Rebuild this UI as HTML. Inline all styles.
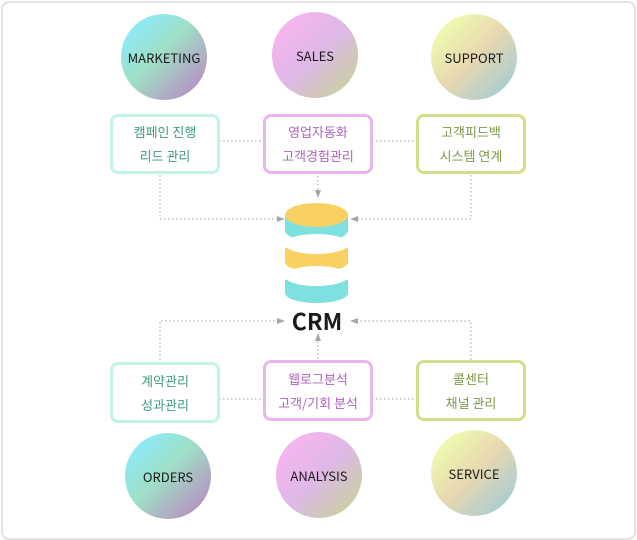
<!DOCTYPE html>
<html><head><meta charset="utf-8"><style>
html,body{margin:0;padding:0;background:#fff;}
body{width:637px;height:540px;position:relative;overflow:hidden;font-family:"Noto Sans CJK KR","Liberation Sans",sans-serif;}
.frame{position:absolute;left:1px;top:1px;width:631px;height:535px;border:2px solid #e2e2e2;border-radius:8px;}
.c{position:absolute;width:86px;height:86px;border-radius:50%;display:flex;align-items:center;justify-content:center;font-size:13px;color:#1a1a1a;}
.b{position:absolute;border:3px solid;border-radius:8px;background:#fff;box-sizing:border-box;display:flex;flex-direction:column;justify-content:center;align-items:center;font-size:13px;line-height:24px;}
.g{border-color:#c2f5e5;color:#3f9a80;}
.p{border-color:#e8b6ec;color:#b062c0;}
.y{border-color:#cfe08a;color:#7d9848;}
svg{position:absolute;left:0;top:0;}
</style></head><body>
<div class="frame"></div>
<svg width="637" height="540">
<defs><marker id="a" markerWidth="8" markerHeight="8" refX="7" refY="4" orient="auto" markerUnits="userSpaceOnUse"><path d="M0,1 L8,4 L0,7 Z" fill="#a0a8b0"/></marker></defs>
<g stroke="#b4b4b4" stroke-width="1.2" stroke-dasharray="1.5,2.5" fill="none">
<line x1="219" y1="141" x2="264" y2="141"/><line x1="372" y1="141" x2="417" y2="141"/>
<line x1="219" y1="399" x2="264" y2="399"/><line x1="372" y1="399" x2="417" y2="399"/>
<polyline points="160,175 160,219 284,219" marker-end="url(#a)"/>
<polyline points="471,175 471,219 351,219" marker-end="url(#a)"/>
<line x1="318" y1="176" x2="318" y2="197" marker-end="url(#a)"/>
<polyline points="160,360 160,321 284,321" marker-end="url(#a)"/>
<polyline points="471,360 471,321 351,321" marker-end="url(#a)"/>
<line x1="318" y1="359" x2="318" y2="334" marker-end="url(#a)"/>
</g>
<rect x="285" y="215" width="63" height="15" fill="#7ee0df"/><ellipse cx="316.5" cy="230" rx="31.5" ry="12" fill="#7ee0df"/>
<ellipse cx="316.5" cy="215" rx="31.5" ry="12" fill="#f9d163"/>
<rect x="285" y="248" width="63" height="14" fill="#f9d163"/><ellipse cx="316.5" cy="262" rx="31.5" ry="10" fill="#f9d163"/>
<ellipse cx="316.5" cy="244" rx="32" ry="10" fill="#fff"/>
<rect x="285" y="280" width="63" height="13" fill="#7ee0df"/><ellipse cx="316.5" cy="293" rx="31.5" ry="10" fill="#7ee0df"/>
<ellipse cx="316.5" cy="276" rx="32" ry="10" fill="#fff"/>
</svg>
<div style="position:absolute;left:270px;top:303px;width:94px;text-align:center;font-size:23px;line-height:34px;font-weight:bold;color:#1a1a1a;">CRM</div>
<div class="c" style="left:121px;top:14px;background:linear-gradient(135deg,#8ee9f5 15%,#9ee0c8 45%,#b88fc2 90%);">MARKETING</div>
<div class="c" style="left:272px;top:12px;background:linear-gradient(135deg,#f7b4ef 15%,#deb8e8 50%,#c8d0a0 90%);">SALES</div>
<div class="c" style="left:431px;top:14px;background:linear-gradient(135deg,#eef9b0 15%,#e8d8b0 50%,#a6ccd4 90%);">SUPPORT</div>
<div class="c" style="left:125px;top:433px;background:linear-gradient(135deg,#8ee9f5 15%,#9ee0c8 45%,#b88fc2 90%);">ORDERS</div>
<div class="c" style="left:276px;top:432px;background:linear-gradient(135deg,#f7b4ef 15%,#deb8e8 50%,#c8d0a0 90%);">ANALYSIS</div>
<div class="c" style="left:431px;top:430px;background:linear-gradient(135deg,#eef9b0 15%,#e8d8b0 50%,#a6ccd4 90%);">SERVICE</div>
<div class="b g" style="left:110px;top:114px;width:110px;height:60px;"><div>캠페인 진행</div><div>리드 관리</div></div>
<div class="b p" style="left:263px;top:114px;width:110px;height:60px;"><div>영업자동화</div><div>고객경험관리</div></div>
<div class="b y" style="left:416px;top:114px;width:110px;height:60px;"><div>고객피드백</div><div>시스템 연계</div></div>
<div class="b g" style="left:110px;top:362px;width:110px;height:61px;"><div>계약관리</div><div>성과관리</div></div>
<div class="b p" style="left:263px;top:360px;width:110px;height:61px;"><div>웹로그분석</div><div>고객/기회 분석</div></div>
<div class="b y" style="left:416px;top:360px;width:110px;height:61px;"><div>콜센터</div><div>채널 관리</div></div>
</body></html>
